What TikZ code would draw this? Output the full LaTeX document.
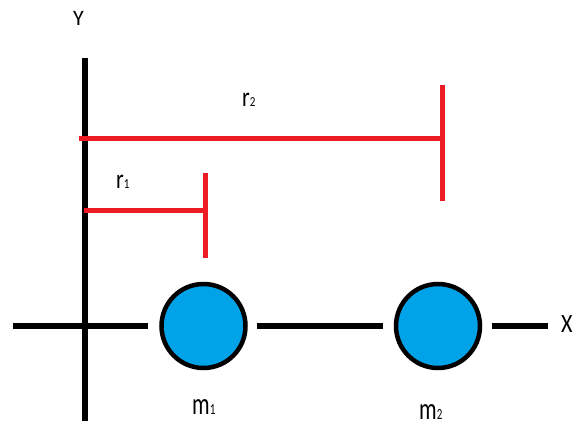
\documentclass[tikz,border=0pt]{standalone}
\usepackage{fontspec}
\setmainfont{Carlito}
\usepackage{graphicx}
\usepackage{tikz}

\definecolor{spanred}{HTML}{ED1C24}
\definecolor{massblue}{HTML}{00A2E8}

% letter with a small index, stretched upwards
\newcommand{\tallsub}[3][1.4]{%
    \scalebox{1}[#1]{#2{\fontsize{11}{11}\selectfont #3}}}

\begin{document}
\begin{tikzpicture}[
    x=1pt,
    y=-1pt,
    axis/.style={
        line width=6pt
    },
    span/.style={
        draw=spanred,
        line width=5pt
    },
    mass/.style={
        draw,
        circle,
        fill=massblue,
        line width=4.5pt,
        minimum size=84pt,
        inner sep=0pt
    },
    axislabel/.style={
        font=\fontsize{22}{22}\selectfont,
        inner sep=0pt,
        anchor=base west
    }
]
\useasboundingbox (0,0) rectangle (573,427);

% ============================================================
% Axes and masses
% ============================================================
\coordinate (y-top)    at (85,58);
\coordinate (y-bottom) at (85,421);
\coordinate (x-tail)   at (13,326);
\coordinate (x-head)   at (548,326);

\node[mass] (m1) at (203.5,326) {};
\node[mass] (m2) at (438,326)   {};

\draw[axis] (y-top) -- (y-bottom);
\draw[axis, shorten >=11pt] (x-tail) -- (m1);
\draw[axis, shorten <=9pt, shorten >=11pt] (m1) -- (m2);
\draw[axis, shorten <=10pt] (m2) -- (x-head);

\node[axislabel] (y-label) at (73,26)  {Y};
\node[axislabel] (x-label) at (561,333) {\scalebox{1}[1.2]{X}};

% ============================================================
% Distances
% ============================================================

% ------------------------------------------------------------
% r2
% ------------------------------------------------------------
\coordinate (r2-left)  at (79,139);
\coordinate (r2-right) at (442,139);

\draw[span] (r2-left) -- (r2-right);
\draw[span] ([yshift=54pt]r2-right) -- ([yshift=-62pt]r2-right);

\node[axislabel] (r2-label) at (242,107) {\tallsub[1.25]{r}{2}};

% ------------------------------------------------------------
% r1
% ------------------------------------------------------------
\coordinate (r1-left)  at (84,211);
\coordinate (r1-right) at (205,211);

\draw[span] (r1-left) -- (r1-right);
\draw[span] ([yshift=38pt]r1-right) -- ([yshift=-47pt]r1-right);

\node[axislabel] (r1-label) at (116,189) {\tallsub[1.25]{r}{1}};

% ------------------------------------------------------------
% mass labels
% ------------------------------------------------------------
\node[axislabel] (m1-label) at (192,415) {\tallsub[1.4]{m}{1}};
\node[axislabel] (m2-label) at (419,420) {\tallsub[1.4]{m}{2}};

\end{tikzpicture}
\end{document}
